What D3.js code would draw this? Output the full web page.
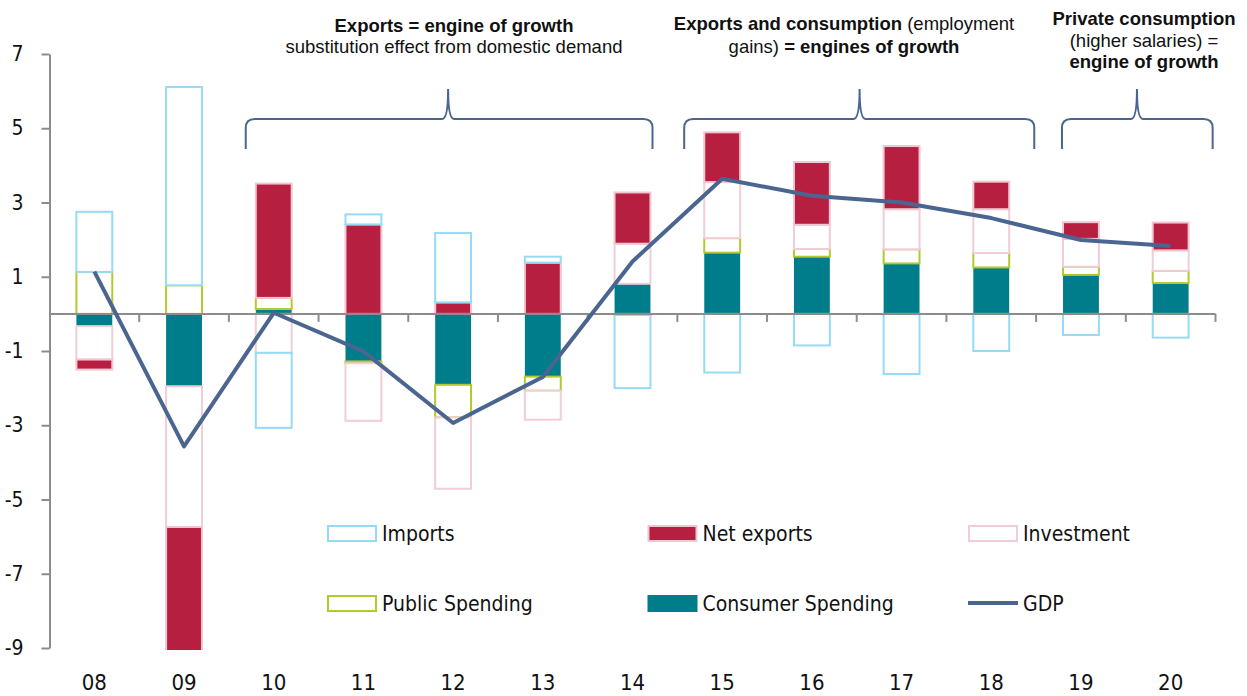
<!DOCTYPE html>
<html>
<head>
<meta charset="utf-8">
<script src="https://cdn.jsdelivr.net/npm/d3@7"></script>
<style>
  body { margin: 0; background: #fff; }
  svg { display: block; }
  .lab { font-family: 'Liberation Sans Narrow', 'DejaVu Sans Condensed', 'Roboto', sans-serif; fill: #111; }
  .head { font-family: 'Liberation Sans', Arial, sans-serif; font-size: 18.5px; fill: #111; }
</style>
</head>
<body>
<svg id="chart"></svg>
<script>
// values (percentage points of GDP growth)
var years = ['08', '09', '10', '11', '12', '13', '14', '15', '16', '17', '18', '19', '20'];
var consumer   = [-0.33, -1.95, 0.13, -1.28, -1.91, -1.69, 0.81, 1.65, 1.54, 1.36, 1.25, 1.05, 0.83];
var publicSp   = [1.13, 0.77, 0.30, -0.05, -0.88, -0.38, -0.03, 0.39, 0.21, 0.38, 0.39, 0.22, 0.33];
var investment = [-0.90, -3.79, -1.05, -1.55, -1.92, -0.78, 1.08, 1.51, 0.65, 1.08, 1.18, 0.75, 0.55];
var netExports = [-0.27, -3.35, 3.08, 2.41, 0.31, 1.38, 1.38, 1.34, 1.69, 1.70, 0.74, 0.45, 0.75];
var imports    = [1.62, 5.34, -2.02, 0.27, 1.87, 0.16, -1.97, -1.58, -0.85, -1.62, -1.00, -0.57, -0.64];
var gdp        = [1.14, -3.57, 0.03, -1.01, -2.94, -1.70, 1.41, 3.64, 3.18, 3.00, 2.58, 1.99, 1.83];
var yTicks = [7, 5, 3, 1, -1, -3, -5, -7, -9];

var width = 1247, height = 696;
var plotLeft = 49.5, plotRight = 1215.5, plotTop = 54, plotBottom = 648;

var svg = d3.select('#chart')
    .attr('width', width)
    .attr('height', height);

var x = d3.scaleBand()
    .domain(years)
    .range([plotLeft, plotRight])
    .padding(0);

var y = d3.scaleLinear()
    .domain([-9, 7])
    .range([plotBottom, plotTop]);

var barW = x.bandwidth() * 0.4;

// series styles, in stacking order
var series = [
    { key: 'consumer', name: 'Consumer Spending', fill: '#007d8b', stroke: '#007d8b' },
    { key: 'public', name: 'Public Spending', fill: '#fff', stroke: '#b4c92e' },
    { key: 'investment', name: 'Investment', fill: '#fff', stroke: '#f0cdd7' },
    { key: 'netExports', name: 'Net exports', fill: '#b71f40', stroke: '#f0c6d1' },
    { key: 'imports', name: 'Imports', fill: '#fff', stroke: '#96dbf5' }
];
var styleOf = {};
series.forEach(function (s) { styleOf[s.key] = s; });

var table = years.map(function (yr, i) {
    return {
        year: yr,
        consumer: consumer[i],
        public: publicSp[i],
        investment: investment[i],
        netExports: netExports[i],
        imports: imports[i]
    };
});

var stack = d3.stack()
    .keys(series.map(function (s) { return s.key; }))
    .offset(d3.stackOffsetDiverging);

var stacked = stack(table);

svg.append('clipPath')
    .attr('id', 'plot-clip')
    .append('rect')
    .attr('x', 0).attr('y', plotTop - 5)
    .attr('width', width).attr('height', plotBottom - plotTop + 7);

// y axis (plain hyphen for negatives, as in the original)
var yAxis = d3.axisLeft(y)
    .tickValues(yTicks)
    .tickFormat(function (d) { return String(d); })
    .tickSize(8)
    .tickSizeOuter(0)
    .tickPadding(18);

var gy = svg.append('g')
    .attr('transform', 'translate(' + plotLeft + ',0)')
    .call(yAxis);
gy.select('.domain').attr('stroke', '#8c8c8c').attr('stroke-width', 2);
gy.selectAll('.tick line').attr('stroke', '#8c8c8c').attr('stroke-width', 2);
gy.selectAll('.tick text')
    .attr('class', 'lab')
    .style('font-size', '21px');

// bars
var bars = svg.append('g').attr('clip-path', 'url(#plot-clip)');

bars.selectAll('g')
    .data(stacked)
    .enter().append('g')
    .each(function (s) {
        var st = styleOf[s.key];
        d3.select(this).selectAll('rect')
            .data(s.filter(function (d) { return d[1] !== d[0]; }))
            .enter().append('rect')
            .attr('x', function (d) { return x(d.data.year) + (x.bandwidth() - barW) / 2; })
            .attr('y', function (d) { return y(Math.max(d[0], d[1])); })
            .attr('width', barW)
            .attr('height', function (d) { return Math.abs(y(d[0]) - y(d[1])); })
            .attr('fill', st.fill)
            .attr('stroke', st.stroke)
            .attr('stroke-width', st.key === 'consumer' ? 0 : 2);
    });

// x axis line at zero with ticks on band boundaries
var xAxisG = svg.append('g');
xAxisG.append('line')
    .attr('x1', plotLeft).attr('x2', plotRight)
    .attr('y1', y(0)).attr('y2', y(0))
    .attr('stroke', '#8c8c8c')
    .attr('stroke-width', 2);

xAxisG.selectAll('.xtick')
    .data(years.slice(1).map(function (d) { return x(d); }).concat([plotRight]))
    .enter().append('line')
    .attr('class', 'xtick')
    .attr('x1', function (d) { return d; })
    .attr('x2', function (d) { return d; })
    .attr('y1', y(0))
    .attr('y2', y(0) + 8)
    .attr('stroke', '#8c8c8c')
    .attr('stroke-width', 2);

var gx = svg.append('g')
    .attr('transform', 'translate(0,' + 674 + ')')
    .call(d3.axisBottom(x).tickSize(0).tickPadding(0));
gx.select('.domain').remove();
gx.selectAll('.tick text')
    .attr('class', 'lab')
    .style('font-size', '22px');

// GDP line
var line = d3.line()
    .x(function (d, i) { return x(years[i]) + x.bandwidth() / 2; })
    .y(function (d) { return y(d); });

svg.append('path')
    .datum(gdp)
    .attr('d', line)
    .attr('fill', 'none')
    .attr('stroke', '#4a6590')
    .attr('stroke-width', 4)
    .attr('stroke-linejoin', 'round');

// braces above the periods
function brace(x0, xm, x1) {
    var yt = 119, ytip = 89, yb = 149, r = 9, r2 = 6;
    return 'M' + x0 + ',' + yb +
        'L' + x0 + ',' + (yt + r) +
        'Q' + x0 + ',' + yt + ' ' + (x0 + r) + ',' + yt +
        'L' + (xm - r2) + ',' + yt +
        'Q' + xm + ',' + yt + ' ' + xm + ',' + ytip +
        'Q' + xm + ',' + yt + ' ' + (xm + r2) + ',' + yt +
        'L' + (x1 - r) + ',' + yt +
        'Q' + x1 + ',' + yt + ' ' + x1 + ',' + (yt + r) +
        'L' + x1 + ',' + yb;
}

var cx = function (yr) { return x(yr) + x.bandwidth() / 2; };
var braces = [
    [cx('10') - 28, cx('12') - 5, cx('14') + 20],
    [cx('15') - 38, cx('17') - 42, cx('18') + 43],
    [cx('19') - 19, cx('19') + 56, cx('20') + 42]
];

svg.append('g').selectAll('path')
    .data(braces)
    .enter().append('path')
    .attr('d', function (d) { return brace(d[0], d[1], d[2]); })
    .attr('fill', 'none')
    .attr('stroke', '#4a6590')
    .attr('stroke-width', 2);

// headings
function heading(cxPos, lines) {
    var t = svg.append('text')
        .attr('class', 'head')
        .attr('text-anchor', 'middle');
    lines.forEach(function (ln) {
        var first = true;
        ln.parts.forEach(function (p) {
            var ts = t.append('tspan')
                .text(p[0])
                .attr('font-weight', p[1] ? 'bold' : 'normal');
            if (first) {
                ts.attr('x', cxPos).attr('y', ln.y);
                first = false;
            }
        });
    });
}

heading(454, [
    { y: 32, parts: [['Exports = engine of growth', true]] },
    { y: 53, parts: [['substitution effect from domestic demand', false]] }
]);
heading(844, [
    { y: 30, parts: [['Exports and consumption', true], [' (employment', false]] },
    { y: 53, parts: [['gains) ', false], ['= engines of growth', true]] }
]);
heading(1144, [
    { y: 25, parts: [['Private consumption', true]] },
    { y: 47, parts: [['(higher salaries) =', false]] },
    { y: 68, parts: [['engine of growth', true]] }
]);

// legend
var legendItems = [
    { key: 'imports', col: 0, row: 0 },
    { key: 'netExports', col: 1, row: 0 },
    { key: 'investment', col: 2, row: 0 },
    { key: 'public', col: 0, row: 1 },
    { key: 'consumer', col: 1, row: 1 },
    { key: 'gdp', col: 2, row: 1 }
];

var legend = svg.append('g')
    .attr('transform', 'translate(327,525)');

var li = legend.selectAll('g')
    .data(legendItems)
    .enter().append('g')
    .attr('transform', function (d) { return 'translate(' + (d.col * 320.5) + ',' + (d.row * 70) + ')'; });

li.each(function (d) {
    var g = d3.select(this);
    if (d.key === 'gdp') {
        g.append('line')
            .attr('x1', 0).attr('x2', 50)
            .attr('y1', 8).attr('y2', 8)
            .attr('stroke', '#4a6590')
            .attr('stroke-width', 4);
        g.append('text').attr('class', 'lab')
            .attr('x', 55).attr('y', 16)
            .style('font-size', '21px')
            .text('GDP');
    } else {
        var st = styleOf[d.key];
        g.append('rect')
            .attr('x', 1).attr('y', 1)
            .attr('width', 48).attr('height', 15)
            .attr('fill', st.fill)
            .attr('stroke', st.stroke)
            .attr('stroke-width', 2);
        g.append('text').attr('class', 'lab')
            .attr('x', 55).attr('y', 16)
            .style('font-size', '21px')
            .text(st.name);
    }
});
</script>
</body>
</html>
